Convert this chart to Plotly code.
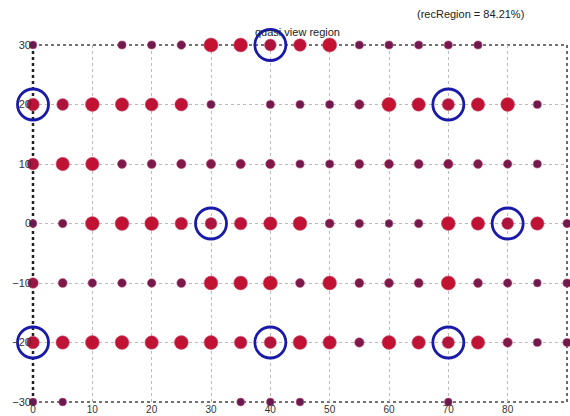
import plotly.graph_objects as go

x_positions = [0, 5, 10, 15, 20, 25, 30, 35, 40, 45, 50, 55, 60, 65, 70, 75, 80, 85, 90]
row_levels = [30, 20, 10, 0, -10, -20, -30]

N = None
score_30 = [0.1, N, N, 0.15, 0.15, 0.2, 0.9, 0.85, 0.6, 0.7, 0.9, 0.15, 0.15, 0.15, 0.15, 0.15, N, N, N]
score_20 = [0.7, 0.6, 0.85, 0.8, 0.75, 0.75, 0.15, N, 0.15, 0.15, 0.15, 0.3, 0.9, 0.8, 0.65, 0.8, 0.85, 0.15, N]
score_10 = [0.6, 0.8, 0.8, 0.25, 0.25, 0.3, 0.3, 0.3, 0.3, 0.15, 0.15, 0.25, 0.25, 0.25, 0.3, 0.25, 0.2, 0.15, N]
score_0 = [0.1, 0.2, 0.85, 0.85, 0.85, 0.7, 0.6, 0.7, 0.8, 0.85, 0.25, 0.2, 0.1, 0.2, 0.85, 0.8, 0.6, 0.8, 0.15]
score_m10 = [0.45, 0.25, 0.2, 0.2, 0.2, 0.25, 0.85, 0.85, 0.9, 0.25, 0.85, 0.25, 0.25, 0.25, 0.9, 0.25, 0.2, 0.1, 0.15]
score_m20 = [0.7, 0.8, 0.85, 0.85, 0.8, 0.85, 0.85, 0.7, 0.65, 0.85, 0.8, 0.3, 0.85, 0.8, 0.65, 0.8, 0.3, 0.15, 0.15]
score_m30 = [0.1, 0.1, N, N, N, N, N, 0.1, 0.1, 0.1, N, N, N, N, 0.1, N, N, N, N]
row_scores = [score_30, score_20, score_10, score_0, score_m10, score_m20, score_m30]

circle_x = [40, 0, 70, 30, 80, 0, 40, 70]
circle_y = [30, 20, 20, 0, 0, -20, -20, -20]

x_ticks = [0, 10, 20, 30, 40, 50, 60, 70, 80, 90]
y_ticks = [30, 20, 10, 0, -10, -20, -30]

title_text = "quasi view region"
rec_text = "(recRegion = 84.21%)"

pts_x, pts_y, pts_v = [], [], []
for yv, scores in zip(row_levels, row_scores):
    for xv, s in zip(x_positions, scores):
        if s is not None:
            pts_x.append(xv)
            pts_y.append(yv)
            pts_v.append(s)

fig = go.Figure()
fig.add_trace(go.Scatter(
    x=pts_x, y=pts_y, mode="markers", cliponaxis=False,
    marker=dict(
        size=[7 + 8 * v for v in pts_v],
        color=pts_v, cmin=0, cmax=1, opacity=1,
        colorscale=[[0, "#5e1a52"], [0.35, "#861848"], [0.7, "#bc1238"], [1, "#c8122e"]],
        line=dict(width=0.8, color="rgba(200,90,120,0.7)"),
    ),
    showlegend=False, hoverinfo="x+y",
))
fig.add_trace(go.Scatter(
    x=circle_x, y=circle_y, mode="markers", cliponaxis=False,
    marker=dict(symbol="circle-open", size=31, opacity=1,
                line=dict(width=2.8, color="#1a1aaa"), color="#1a1aaa"),
    showlegend=False, hoverinfo="skip",
))

axis_common = dict(
    showgrid=True, gridcolor="#bbbbbb", griddash="dot", gridwidth=1,
    zeroline=False, showline=False, ticks="", ticklen=0, automargin=False,
)
fig.update_xaxes(range=[0, 90], tickvals=x_ticks, ticklabelstandoff=0,
                 tickfont=dict(family="Liberation Sans, Arial", size=10, color="#333333"), **axis_common)
fig.update_yaxes(range=[-30, 30], tickvals=y_ticks, ticklabelstandoff=1,
                 tickfont=dict(family="Liberation Sans, Arial", size=11, color="#333333"), **axis_common)

frame = dict(type="line", xref="paper", yref="paper", line=dict(color="#444444", width=1.6, dash="dot"), layer="below")
fig.add_shape(x0=0, x1=1, y0=1, y1=1, **frame)
fig.add_shape(x0=0, x1=1, y0=0, y1=0, **frame)
fig.add_shape(x0=1, x1=1, y0=0, y1=1, **frame)
fig.add_shape(type="line", xref="paper", yref="paper", x0=0, x1=0, y0=0, y1=1,
              line=dict(color="#222222", width=2.5, dash="dot"), layer="below")

fig.add_annotation(text=title_text, xref="paper", yref="paper", x=0.495, y=1.0, yshift=5,
                   xanchor="center", yanchor="bottom", showarrow=False,
                   font=dict(family="Liberation Sans, Arial", size=11, color="#222222"))
fig.add_annotation(text=rec_text, xref="paper", yref="paper", x=0.82, y=1.0, yshift=23,
                   xanchor="center", yanchor="bottom", showarrow=False,
                   font=dict(family="Liberation Sans, Arial", size=11, color="#222222"))

fig.update_layout(
    width=570, height=416,
    margin=dict(l=33, r=3, t=45, b=14),
    paper_bgcolor="white", plot_bgcolor="white",
)
fig.write_html("out.html", config={"displayModeBar": False},
               post_script="document.body.style.margin='0';document.body.style.overflow='hidden';")
